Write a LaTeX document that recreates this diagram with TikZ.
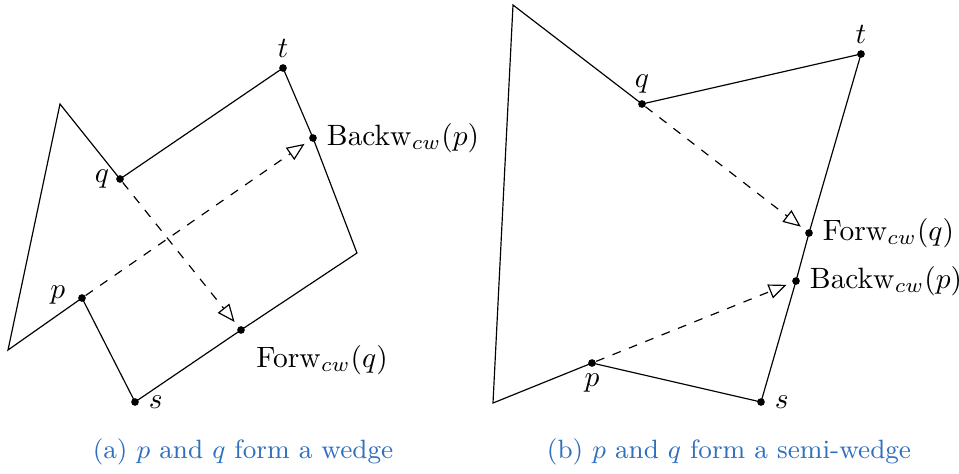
\documentclass[tikz,border=0pt]{standalone}
\usepackage{amsmath}
\usepackage{tikz}
\usetikzlibrary{arrows.meta,positioning}
\definecolor{capblue}{RGB}{48,112,190}
\tikzset{
  pt/.style={circle, fill=black, inner sep=0pt, minimum size=2.6pt},
  lbl/.style={inner sep=1pt},
  warr/.style={-{Triangle[open,length=6pt,width=5pt]}, dashed, shorten >=2pt},
  captxt/.style={text=capblue, font=\small},
}
\begin{document}
\begin{tikzpicture}[x=0.34pt, y=-0.34pt, node distance=1pt]
\useasboundingbox (0,0) rectangle (959,473);

% WEDGE
\coordinate (a1) at (8,350);
\coordinate (a2) at (60,104);
\coordinate (a3) at (357,253);
\node[pt] (qa) at (120,179) {};
\node[pt] (ta) at (283,68) {};
\node[pt] (ba) at (313,138) {};
\node[pt] (fa) at (241,330) {};
\node[pt] (sa) at (135,402) {};
\node[pt] (pa) at (82,298) {};
\draw (a1) -- (a2) -- (qa.center) -- (ta.center) -- (ba.center) -- (a3)
  -- (fa.center) -- (sa.center) -- (pa.center) -- cycle;
\draw[warr] (pa) -- (ba);
\draw[warr] (qa) -- (fa);
\node[lbl, left=1pt of qa] (qal) {$q$};
\node[lbl, above=1pt of ta] (tal) {$t$};
\node[lbl, right=2pt of ba] (bal) {$\mathrm{Backw}_{cw}(p)$};
\node[lbl, below right=3pt and 3pt of fa] (fal) {$\mathrm{Forw}_{cw}(q)$};
\node[lbl, right=2pt of sa] (sal) {$s$};
\node[lbl, left=3pt of pa, yshift=1pt] (pal) {$p$};
\node[captxt] (capa) at (243,452) {(a) $p$ and $q$ form a wedge};

% SEMI-WEDGE
\coordinate (b1) at (493,403);
\coordinate (b2) at (513,5);
\node[pt] (qb) at (642,104) {};
\node[pt] (tb) at (861,54) {};
\node[pt] (fb) at (809,233) {};
\node[pt] (bb) at (796,281) {};
\node[pt] (sb) at (761,402) {};
\node[pt] (pb) at (592,363) {};
\draw (b1) -- (b2) -- (qb.center) -- (tb.center) -- (fb.center) -- (bb.center)
  -- (sb.center) -- (pb.center) -- cycle;
\draw[warr] (qb) -- (fb);
\draw[warr] (pb) -- (bb);
\node[lbl, above=1pt of qb] (qbl) {$q$};
\node[lbl, above=1pt of tb] (tbl) {$t$};
\node[lbl, right=2pt of fb] (fbl) {$\mathrm{Forw}_{cw}(q)$};
\node[lbl, right=2pt of bb] (bbl) {$\mathrm{Backw}_{cw}(p)$};
\node[lbl, right=2pt of sb] (sbl) {$s$};
\node[lbl, below=1pt of pb] (pbl) {$p$};
\node[captxt] (capb) at (729,452) {(b) $p$ and $q$ form a semi-wedge};

\end{tikzpicture}
\end{document}
